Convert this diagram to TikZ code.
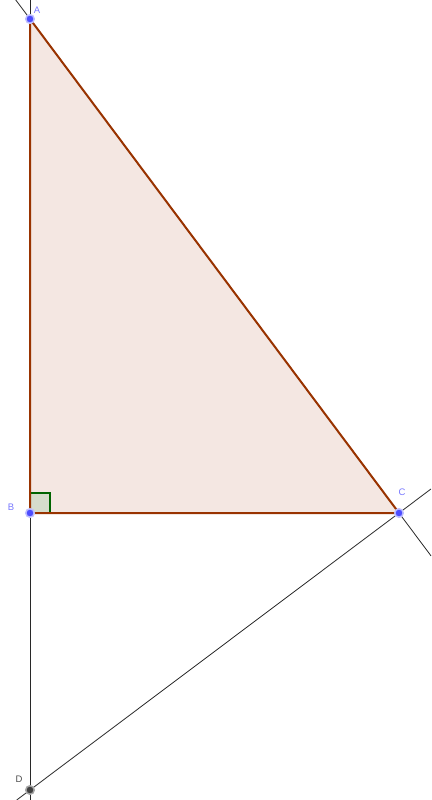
\documentclass[tikz,border=0pt]{standalone}
\usepackage{fontspec}
\setmainfont{Liberation Sans}
\usetikzlibrary{calc}
\definecolor{triFill}{RGB}{244,231,226}
\definecolor{triEdge}{RGB}{153,51,0}
\definecolor{ptBlue}{RGB}{77,77,255}
\definecolor{ptHalo}{RGB}{190,190,255}
\definecolor{lblBlue}{RGB}{120,120,255}
\definecolor{angGreen}{RGB}{0,100,0}
\definecolor{angFill}{RGB}{214,220,204}
\definecolor{lineGray}{RGB}{40,40,40}
\tikzset{
  thinline/.style={draw=lineGray, line width=0.8pt},
  edge/.style={draw=triEdge, line width=2pt},
  bluept/.style={circle, fill=ptBlue, draw=ptHalo, line width=1.5pt, inner sep=0pt, minimum size=8.5pt},
  darkpt/.style={circle, fill=black!75, draw=black!35, line width=1.5pt, inner sep=0pt, minimum size=8.5pt},
  lbl/.style={text=lblBlue, font=\fontsize{9.5}{9.5}\selectfont, inner sep=0pt},
  dlbl/.style={text=black!70, font=\fontsize{9.5}{9.5}\selectfont, inner sep=0pt}
}
\begin{document}
\begin{tikzpicture}[x=1pt,y=-1pt]
\useasboundingbox (0,0) rectangle (431,800);
\coordinate (A) at (30,19);
\coordinate (B) at (30,513);
\coordinate (C) at (399,513);
\coordinate (D) at (30,790);
\coordinate (Vtop) at (30,0);
\coordinate (Vbot) at (30,800);
\coordinate (ACtop) at ($(A)!-0.0385!(C)$);
\coordinate (ACbot) at ($(A)!1.0867!(C)$);
\coordinate (CDtop) at ($(D)!1.0867!(C)$);
\coordinate (CDbot) at ($(D)!-0.036!(C)$);
% triangle fill
\fill[triFill] (A) -- (B) -- (C) -- cycle;
% right angle marker
\draw[draw=angGreen, fill=angFill, line width=1.2pt] (B) rectangle ++(20,-20);
% thin lines
\draw[thinline] (Vtop) -- (Vbot);
\draw[thinline] (ACtop) -- (ACbot);
\draw[thinline] (CDtop) -- (CDbot);
% triangle edges
\draw[edge, line join=round] (A) -- (B) -- (C) -- cycle;
% points
\node[bluept] (pA) at (A) {};
\node[bluept] (pB) at (B) {};
\node[bluept] (pC) at (C) {};
\node[darkpt] (pD) at (D) {};
% labels
\node[lbl] (lA) at (37,10) {A};
\node[lbl] (lB) at (11,507) {B};
\node[lbl] (lC) at (402,492) {C};
\node[dlbl] (lD) at (19,779) {D};
\end{tikzpicture}
\end{document}
